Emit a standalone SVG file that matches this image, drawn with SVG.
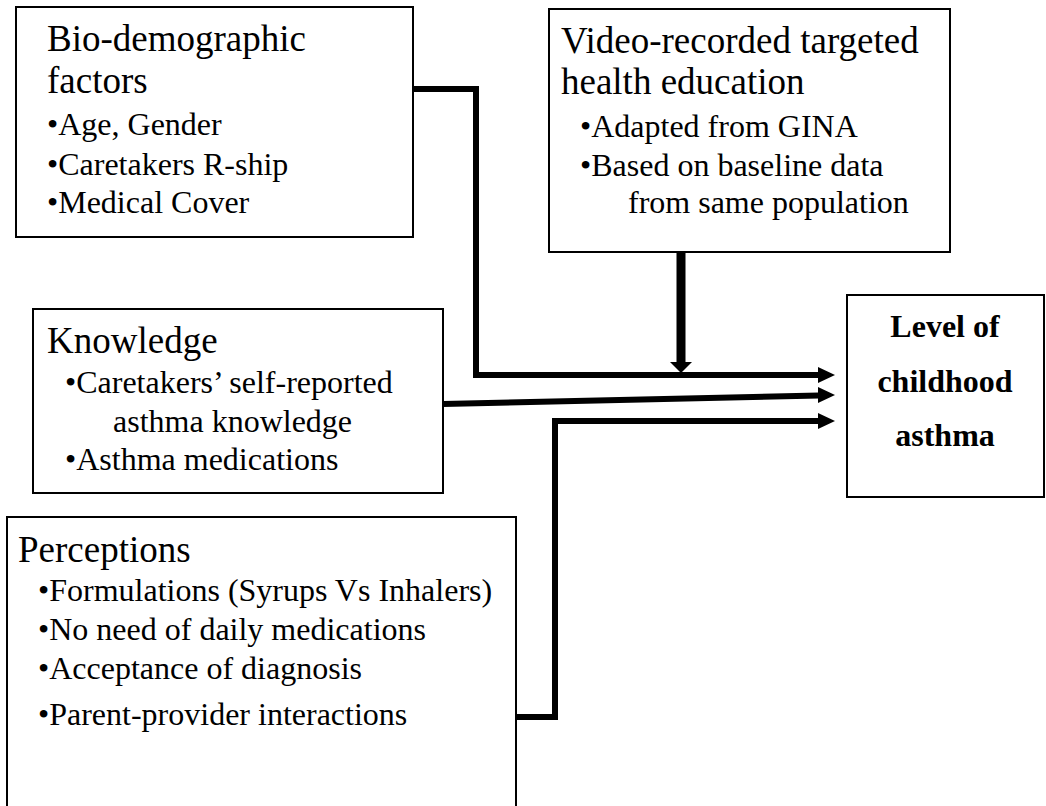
<svg xmlns="http://www.w3.org/2000/svg" width="1046" height="806" viewBox="0 0 1046 806">
<style>
.box{fill:#fff;stroke:#000;stroke-width:2}
.t{font-family:"Liberation Serif","Times New Roman",serif;fill:#000}
.h{font-size:37px}
.b{font-size:32px}
.lv{font-size:32px;font-weight:bold;text-anchor:middle}
.c{fill:none;stroke:#000;stroke-width:6;stroke-linejoin:miter;stroke-linecap:butt}
.ah{fill:#000;stroke:none}
</style>
<rect width="1046" height="806" fill="#fff"/>
<g id="bio">
<rect class="box" x="16" y="7" width="397" height="230"/>
<text class="t h" x="47" y="51">Bio-demographic</text>
<text class="t h" x="47" y="93">factors</text>
<text class="t b" x="47" y="135">•Age, Gender</text>
<text class="t b" x="47" y="175">•Caretakers R-ship</text>
<text class="t b" x="47" y="213">•Medical Cover</text>
</g>
<g id="video">
<rect class="box" x="549" y="9" width="401" height="243"/>
<text class="t h" x="561" y="53">Video-recorded targeted</text>
<text class="t h" x="561" y="94">health education</text>
<text class="t b" x="580" y="137">•Adapted from GINA</text>
<text class="t b" x="580" y="176">•Based on baseline data</text>
<text class="t b" x="628" y="213">from same population</text>
</g>
<g id="knowledge">
<rect class="box" x="33" y="309" width="410" height="184"/>
<text class="t h" x="47" y="353">Knowledge</text>
<text class="t b" x="65" y="393">•Caretakers’ self-reported</text>
<text class="t b" x="113" y="432">asthma knowledge</text>
<text class="t b" x="65" y="470">•Asthma medications</text>
</g>
<g id="perceptions">
<rect class="box" x="7" y="517" width="509" height="300"/>
<text class="t h" x="18" y="562">Perceptions</text>
<text class="t b" x="38" y="601">•Formulations (Syrups Vs Inhalers)</text>
<text class="t b" x="38" y="640">•No need of daily medications</text>
<text class="t b" x="38" y="679">•Acceptance of diagnosis</text>
<text class="t b" x="38" y="725">•Parent-provider interactions</text>
</g>
<g id="level">
<rect class="box" x="847" y="295" width="197" height="202"/>
<text class="t lv" x="945" y="337">Level of</text>
<text class="t lv" x="945" y="392">childhood</text>
<text class="t lv" x="945" y="446">asthma</text>
</g>
<g id="connectors">
<polyline class="c" points="413,89 476,89 476,375 819,375"/>
<polygon class="ah" points="818,367 835,375 818,383"/>
<line class="c" x1="681" y1="252" x2="681" y2="363" style="stroke-width:9"/>
<polygon class="ah" points="670,362 692,362 681,373"/>
<line class="c" x1="443" y1="404" x2="819" y2="395.5"/>
<polygon class="ah" points="818,387 835,395 818,403"/>
<polyline class="c" points="516,717 555,717 555,421 819,421"/>
<polygon class="ah" points="818,413 835,421 818,429"/>
</g>
</svg>
